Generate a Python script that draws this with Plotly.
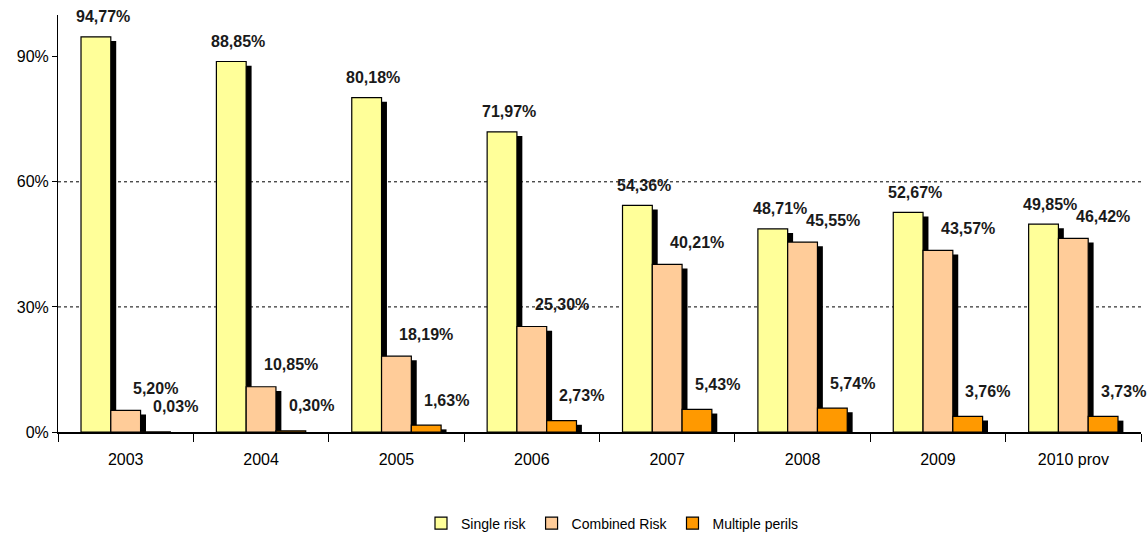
import plotly.graph_objects as go

years = ["2003", "2004", "2005", "2006", "2007", "2008", "2009", "2010 prov"]
single_risk = [94.77, 88.85, 80.18, 71.97, 54.36, 48.71, 52.67, 49.85]
combined_risk = [5.20, 10.85, 18.19, 25.30, 40.21, 45.55, 43.57, 46.42]
multiple_perils = [0.03, 0.30, 1.63, 2.73, 5.43, 5.74, 3.76, 3.73]
series_names = ["Single risk", "Combined Risk", "Multiple perils"]
y_ticks = [0, 30, 60, 90]
y_tick_text = ["0%", "30%", "60%", "90%"]
grid_levels = [30, 60]

colors = ["#FFFF99", "#FFCC99", "#FF9900"]
offsets = [-0.33, -0.11, 0.11]
bar_w = 0.22
shadow_dx = 0.04    # ~5px in category units
shadow_dy = 1.0     # ~4px in data units
label_xshift = [-23, 30, 50]
label_yshift = [20, 22, 25]

series = [single_risk, combined_risk, multiple_perils]
FONT = "Liberation Sans, Arial, sans-serif"

fig = go.Figure()

# shadows
for vals, off in zip(series, offsets):
    fig.add_trace(go.Bar(
        x=years, y=[max(v - shadow_dy, 0) for v in vals],
        offset=off + shadow_dx, width=bar_w,
        marker=dict(color="black", line=dict(width=0)),
        showlegend=False, hoverinfo="skip"))

# bars
for vals, off, col, name in zip(series, offsets, colors, series_names):
    fig.add_trace(go.Bar(
        x=years, y=vals, name=name, offset=off, width=bar_w,
        marker=dict(color=col, line=dict(color="black", width=1.2))))

annotations = []
for si, vals in enumerate(series):
    for i, v in enumerate(vals):
        annotations.append(dict(
            x=i, y=v, xref="x", yref="y",
            text=f"{v:.2f}".replace(".", ",") + "%",
            showarrow=False, xshift=label_xshift[si], yshift=label_yshift[si],
            yanchor="middle", xanchor="center",
            font=dict(family=FONT, size=16, color="#1a1a1a", weight="bold")))

shapes = [dict(type="line", xref="paper", yref="y", x0=0, x1=1, y0=g, y1=g,
               line=dict(color="black", width=1, dash="dot"), layer="below")
          for g in grid_levels]

fig.update_layout(
    width=1147, height=535,
    margin=dict(l=58, r=6, t=15, b=103, autoexpand=False),
    barmode="overlay",
    plot_bgcolor="white", paper_bgcolor="white",
    font=dict(family=FONT, size=16, color="black"),
    annotations=annotations, shapes=shapes,
    legend=dict(orientation="h", x=0.512, xanchor="center", y=-0.258, yanchor="bottom",
                font=dict(family=FONT, size=14, color="black"),
                itemwidth=30, tracegroupgap=0, traceorder="normal"),
    xaxis=dict(showline=True, linecolor="black", linewidth=2, automargin=False,
               ticks="outside", tickson="boundaries", ticklen=8, tickcolor="black",
               showgrid=False, range=[-0.5, 7.5], tickfont=dict(size=16),
               ticklabelstandoff=12),
    yaxis=dict(range=[0, 100], tickvals=y_ticks, ticktext=y_tick_text, automargin=False,
               showline=True, linecolor="black", linewidth=1,
               ticks="outside", ticklen=5, tickcolor="black",
               showgrid=False, zeroline=False, tickfont=dict(size=16)),
)

fig.write_html("out.html")
